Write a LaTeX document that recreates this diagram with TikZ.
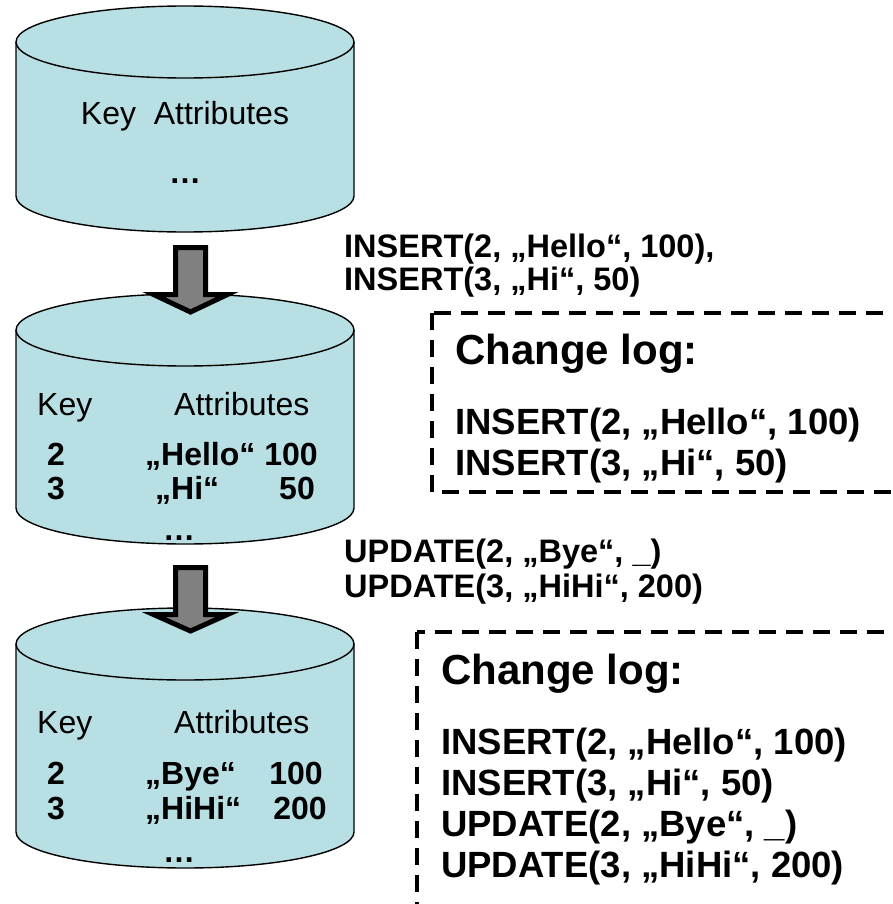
\documentclass[tikz,border=0pt]{standalone}
\usepackage{fontspec}
\setmainfont{Liberation Sans}
\definecolor{dbfill}{RGB}{184,223,227}
\definecolor{arrowgray}{RGB}{128,128,128}

% one database drum: #1 = name prefix, #2 = y of top rim centre, #3 = y of bottom rim centre
\newcommand{\dbdrum}[3]{%
  \coordinate (#1-top) at (185,#2);
  \coordinate (#1-bot) at (185,#3);
  \filldraw[drum] (16,#3) -- (16,#2)
    arc[start angle=180, end angle=0, x radius=169pt, y radius=36pt]
    -- (354,#3)
    arc[start angle=0, end angle=-180, x radius=169pt, y radius=36pt] -- cycle;
  \draw[drum, fill=none] (16,#2)
    arc[start angle=180, end angle=360, x radius=169pt, y radius=36pt];
}

% block arrow: #1 = top of shaft, #2 = base of head, #3 = tip
\newcommand{\blockdown}[3]{%
  \filldraw[blockarrow] (175.5,#1) -- (205.5,#1) -- (205.5,#2) -- (227.5,#2)
    -- (190.5,#3) -- (153.5,#2) -- (175.5,#2) -- cycle;
}

\begin{document}
\begin{tikzpicture}[x=1pt, y=-1pt,
  drum/.style={draw=black, line width=1.4pt, fill=dbfill},
  blockarrow/.style={draw=black, line width=5pt, line join=miter, fill=arrowgray},
  logbox/.style={draw=black, line width=4pt, dash pattern=on 17pt off 10pt},
  txt/.style={inner sep=0pt, anchor=base west},
  plain/.style={txt, font=\fontsize{32}{38}\selectfont},
  boldtxt/.style={txt, font=\bfseries\fontsize{32}{38}\selectfont},
  oplabel/.style={txt, font=\bfseries\fontsize{32.5}{38}\selectfont},
  logline/.style={txt, font=\bfseries\fontsize{36.5}{42}\selectfont},
  loghead/.style={txt, font=\bfseries\fontsize{42}{48}\selectfont}]

\useasboundingbox (0,0) rectangle (892,904);
\clip (0,0) rectangle (892,904);

% ---- database states ----
\dbdrum{db1}{42}{196}
\dbdrum{db2}{330}{508}
\dbdrum{db3}{644}{832}

% initial state
\node[plain, anchor=base] (k1) at (185,125) {Key\ \ Attributes};
\node[boldtxt, anchor=base] (d1) at (185,183) {…};

% after the inserts
\node[plain] (k2) at (37,415) {Key};
\node[plain] (a2) at (174,415) {Attributes};
\node[boldtxt] (r2a) at (47,465) {2};
\node[boldtxt] (r2b) at (145,465) {„Hello“ 100};
\node[boldtxt] (r3a) at (47,499) {3};
\node[boldtxt] (r3b) at (155,499) {„Hi“};
\node[boldtxt, anchor=base east] (r3c) at (315,499) {50};
\node[boldtxt, anchor=base] (d2) at (179,540) {…};

% after the updates
\node[plain] (k3) at (37,733) {Key};
\node[plain] (a3) at (174,733) {Attributes};
\node[boldtxt] (s2a) at (47,784) {2};
\node[boldtxt] (s2b) at (145,784) {„Bye“};
\node[boldtxt, anchor=base east] (s2c) at (323,784) {100};
\node[boldtxt] (s3a) at (47,819) {3};
\node[boldtxt] (s3b) at (145,819) {„HiHi“};
\node[boldtxt, anchor=base east] (s3c) at (327,819) {200};
\node[boldtxt, anchor=base] (d3) at (179,862) {…};

% ---- transitions ----
\blockdown{247.5}{294.5}{312}
\blockdown{567.5}{614.5}{631}

\node[oplabel] (op1) at (344,257) {INSERT(2, „Hello“, 100),};
\node[oplabel] (op2) at (344,290) {INSERT(3, „Hi“, 50)};
\node[oplabel] (op3) at (344,562) {UPDATE(2, „Bye“, \_)};
\node[oplabel] (op4) at (344,597) {UPDATE(3, „HiHi“, 200)};

% ---- change logs ----
\draw[logbox] (432,313) rectangle (897,492);
\node[loghead] (log1) at (455,364) {Change log:};
\node[logline] (l11) at (455,434) {INSERT(2, „Hello“, 100)};
\node[logline] (l12) at (455,475) {INSERT(3, „Hi“, 50)};

\draw[logbox] (417,632) rectangle (897,912);
\node[loghead] (log2) at (441,684) {Change log:};
\node[logline] (l21) at (441,754) {INSERT(2, „Hello“, 100)};
\node[logline] (l22) at (441,795) {INSERT(3, „Hi“, 50)};
\node[logline] (l23) at (441,836) {UPDATE(2, „Bye“, \_)};
\node[logline] (l24) at (441,877) {UPDATE(3, „HiHi“, 200)};
\end{tikzpicture}
\end{document}
